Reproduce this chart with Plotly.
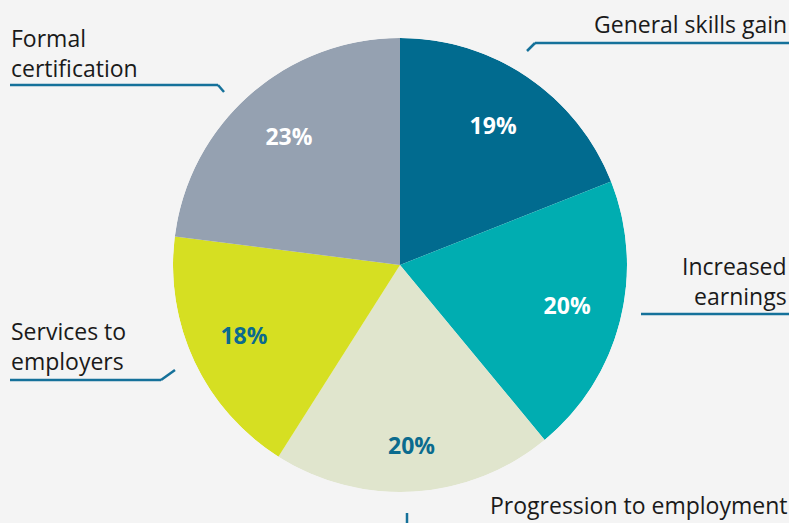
import plotly.graph_objects as go

W, H = 789, 523

categories = ["General skills gain", "Increased earnings", "Progression to employment",
              "Services to employers", "Formal certification"]
values = [19, 20, 20, 18, 23]
colors = ["#016b8f", "#00adb1", "#e0e5cd", "#d6df22", "#95a1b1"]
text_colors = ["#ffffff", "#ffffff", "#0b6b8e", "#0b6b8e", "#ffffff"]
label_text = ["General skills gain", "Increased<br>earnings", "Progression to employment",
              "Services to<br>employers", "Formal<br>certification"]

def px(x):
    return x / W

def py(y):
    return 1 - y / H

dom = dict(x=[px(173), px(627)], y=[py(492), py(38)])

total = sum(values)
widths = [v / total * 360 for v in values]
mids = []
acc = 0
for v in values:
    mids.append((acc + v / 2) / total * 360)
    acc += v

fig = go.Figure()
fig.add_trace(go.Barpolar(
    r=[1] * len(values),
    theta=mids,
    width=widths,
    marker=dict(color=colors, line=dict(width=0)),
    hovertext=categories,
    hoverinfo="text",
    showlegend=False,
))
fig.add_trace(go.Scatterpolar(
    r=[0.73, 0.76, 0.81, 0.76, 0.74],
    theta=mids,
    mode="text",
    text=[f"<b>{v}%</b>" for v in values],
    textfont=dict(color=text_colors, size=23, family="Open Sans"),
    hoverinfo="skip",
    showlegend=False,
))

line_col = "#15719a"
ann_font = dict(family="Open Sans", size=23, color="#1a1a1a")

annotations = [
    dict(text=label_text[4], x=px(9), y=py(53), xanchor="left", yanchor="middle", align="left"),
    dict(text=label_text[0], x=px(789), y=py(24), xanchor="right", yanchor="middle", align="right"),
    dict(text=label_text[1], x=px(789), y=py(281), xanchor="right", yanchor="middle", align="right"),
    dict(text=label_text[3], x=px(9), y=py(346), xanchor="left", yanchor="middle", align="left"),
    dict(text=label_text[2], x=px(789), y=py(505), xanchor="right", yanchor="middle", align="right"),
]
for a in annotations:
    a.update(xref="paper", yref="paper", showarrow=False, font=ann_font)

segments = [
    [(10, 85), (218, 85), (224, 92)],
    [(527, 51), (535, 43), (789, 43)],
    [(641, 314), (789, 314)],
    [(10, 380), (161, 380), (175, 370)],
    [(407, 513), (407, 523)],
]
shapes = []
for seg in segments:
    for (x0, y0), (x1, y1) in zip(seg[:-1], seg[1:]):
        shapes.append(dict(type="line", xref="paper", yref="paper",
                           x0=px(x0), y0=py(y0), x1=px(x1), y1=py(y1),
                           line=dict(color=line_col, width=2.5)))

fig.update_layout(
    width=W, height=H,
    margin=dict(l=0, r=0, t=0, b=0),
    paper_bgcolor="#f4f4f4",
    plot_bgcolor="#f4f4f4",
    annotations=annotations,
    shapes=shapes,
    polar=dict(
        domain=dom,
        bgcolor="rgba(0,0,0,0)",
        bargap=0,
        radialaxis=dict(visible=False, range=[0, 1]),
        angularaxis=dict(visible=False, direction="clockwise", rotation=90),
    ),
)

fig.write_html("out.html", config={"displayModeBar": False},
               post_script="document.body.style.margin='0px';document.body.style.overflow='hidden';")
